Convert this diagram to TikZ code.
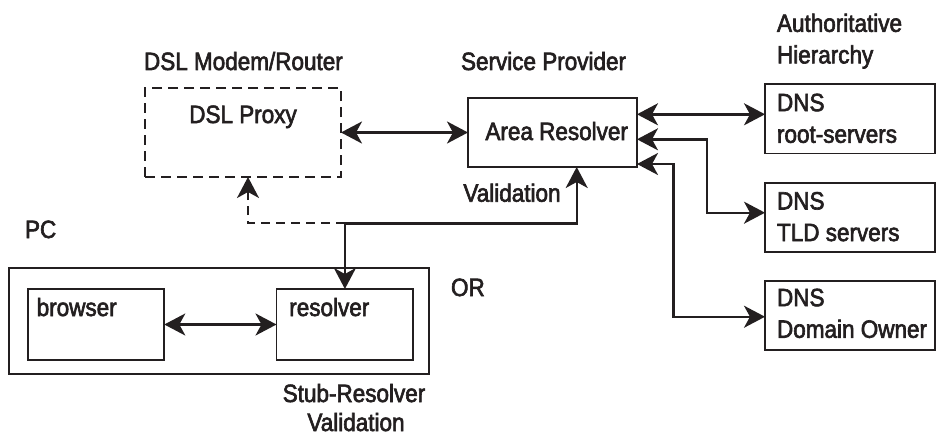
\documentclass[tikz,border=0pt]{standalone}
\usepackage{fontspec}
\setmainfont[FakeStretch=0.9,FakeBold=2.5]{Liberation Sans}
\usetikzlibrary{arrows.meta,calc}
\definecolor{ink}{HTML}{231F20}
\begin{document}
\begin{tikzpicture}[x=1pt,y=-1pt,
  box/.style={draw=ink,line width=1.9pt,inner sep=0pt,outer sep=0pt,anchor=north west},
  txt/.style={text=ink,inner sep=0pt,outer sep=0pt,font=\fontsize{25}{31.6}\selectfont},
  conn/.style={draw=ink,line width=2.4pt,{Stealth[length=21pt,width=22pt,inset=6pt]}-{Stealth[length=21pt,width=22pt,inset=6pt]}},
  dconn/.style={draw=ink,line width=2pt,dash pattern=on 9pt off 6pt,-{Stealth[length=21pt,width=22pt,inset=6pt]}}
]
\useasboundingbox (0,0) rectangle (936,436);

% boxes
\node[box,dash pattern=on 10pt off 6pt,minimum width=196pt,minimum height=89pt] (dsl) at (145,88) {};
\node[box,minimum width=169pt,minimum height=69pt] (area) at (468,98) {};
\node[box,minimum width=170pt,minimum height=69.5pt] (root) at (765,84) {};
\node[box,minimum width=170pt,minimum height=69pt] (tld) at (765,182.7) {};
\node[box,minimum width=170pt,minimum height=69.3pt] (dom) at (765,280.7) {};
\node[box,minimum width=420pt,minimum height=106.6pt] (pc) at (9.3,267.7) {};
\node[box,minimum width=136pt,minimum height=71pt] (browser) at (28.3,289) {};
\node[box,minimum width=136.8pt,minimum height=71pt] (resolver) at (276.5,289) {};

% texts
\node[txt,anchor=base west] (tdslmodem) at (144,70) {DSL Modem/Router};
\node[txt,anchor=base west] (tsp) at (461,70) {Service Provider};
\node[txt,anchor=north west,align=left] (tauth) at (777,13.7) {Authoritative\\Hierarchy};
\node[txt,anchor=base] (tdslproxy) at (243,123) {DSL Proxy};
\node[txt,anchor=base] (tarea) at (556.7,140) {Area Resolver};
\node[txt,anchor=base] (tvalid) at (512,201.7) {Validation};
\node[txt,anchor=base west] (tpc) at (25,238) {PC};
\node[txt,anchor=base west] (tbrowser) at (36.7,316) {browser};
\node[txt,anchor=base west] (tresolver) at (289.3,316) {resolver};
\node[txt,anchor=base west] (tor) at (451,296) {OR};
\node[txt,anchor=base] (tstub) at (354,402) {Stub-Resolver};
\node[txt,anchor=base] (tstubv) at (356,431) {Validation};
\node[txt,anchor=north west,align=left] (troot) at (777,93.7) {DNS\\root-servers};
\node[txt,anchor=north west,align=left] (ttld) at (777,192) {DNS\\TLD servers};
\node[txt,anchor=north west,align=left] (tdom) at (777,288.7) {DNS\\Domain Owner};

% helper coordinates
\coordinate (a1) at ([yshift=-16.3pt]area.north east);
\coordinate (a2) at ([yshift=-41.3pt]area.north east);
\coordinate (a3) at ([yshift=-66pt]area.north east);
\coordinate (t2) at ([yshift=4.5pt]tld.west);
\coordinate (t3) at ([yshift=-1.4pt]dom.west);
\coordinate (k2) at (706.7,180);
\coordinate (k3) at (673.3,240);
\coordinate (v1) at ([xshift=24.2pt]area.south);
\coordinate (k4) at (450,223.3);
\coordinate (j) at (resolver.north |- k4);

% connectors
\draw[conn] (dsl.east) -- (dsl.east -| area.west);
\draw[conn] (a1) -- (a1 -| root.west);
\draw[conn] (a2) -| (k2) |- (t2);
\draw[conn] (a3) -| (k3) |- (t3);
\draw[conn] (v1) |- (k4) -| (resolver.north);
\draw[dconn] (j) -| ([xshift=5pt]dsl.south);
\draw[conn] (browser.east) -- (resolver.west);
\end{tikzpicture}
\end{document}
